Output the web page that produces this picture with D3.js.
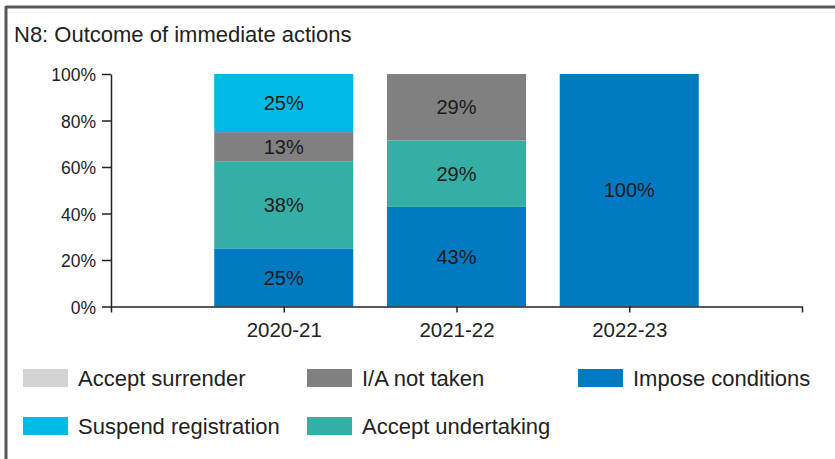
<!DOCTYPE html>
<html>
<head>
<meta charset="utf-8">
<script src="https://cdn.jsdelivr.net/npm/d3@7"></script>
<style>
  html, body { margin: 0; padding: 0; background: #fff; }
  svg { display: block; font-family: "Liberation Sans", Arial, sans-serif; }
</style>
</head>
<body>
<svg id="chart" width="835" height="459"></svg>
<script>
const title = "N8: Outcome of immediate actions";
const years = ["2020-21", "2021-22", "2022-23"];
// Stack order, bottom to top
const seriesNames = ["Impose conditions", "Accept undertaking", "I/A not taken", "Suspend registration", "Accept surrender"];
const imposeConditions   = [25, 42.86, 100];
const acceptUndertaking  = [37.5, 28.57, 0];
const iaNotTaken         = [12.5, 28.57, 0];
const suspendRegistration= [25, 0, 0];
const acceptSurrender    = [0, 0, 0];
const yTicks = [0, 20, 40, 60, 80, 100];
const legendOrder = [["Accept surrender", "I/A not taken", "Impose conditions"], ["Suspend registration", "Accept undertaking"]];
const colors = {
  "Impose conditions": "#007BC3",
  "Accept undertaking": "#34AFA6",
  "I/A not taken": "#808080",
  "Suspend registration": "#00B9E4",
  "Accept surrender": "#D3D3D3"
};

const valuesBySeries = {
  "Impose conditions": imposeConditions,
  "Accept undertaking": acceptUndertaking,
  "I/A not taken": iaNotTaken,
  "Suspend registration": suspendRegistration,
  "Accept surrender": acceptSurrender
};
const table = years.map((yr, i) => {
  const row = { year: yr };
  seriesNames.forEach(s => row[s] = valuesBySeries[s][i]);
  return row;
});

const svg = d3.select("#chart");

// Frame (top and left edges visible)
svg.append("line").attr("x1", 6).attr("x2", 835).attr("y1", 7).attr("y2", 7)
  .attr("stroke", "#575757").attr("stroke-width", 3);
svg.append("line").attr("x1", 6).attr("x2", 6).attr("y1", 6).attr("y2", 459)
  .attr("stroke", "#575757").attr("stroke-width", 3);

// Title
svg.append("text").attr("x", 14).attr("y", 42)
  .attr("font-size", 22).attr("fill", "#222").text(title);

const x = d3.scalePoint().domain(["_s", ...years, "_e"]).range([111, 802]);
const y = d3.scaleLinear().domain([0, 100]).range([306.5, 74]);
const barW = x.step() * 0.805;

const stack = d3.stack().keys(seriesNames)(table);

const g = svg.append("g");
stack.forEach(layer => {
  g.selectAll(null).data(layer).enter().append("rect")
    .filter(d => d[1] - d[0] > 0)
    .attr("x", d => x(d.data.year) - barW / 2)
    .attr("width", barW)
    .attr("y", d => y(d[1]))
    .attr("height", d => y(d[0]) - y(d[1]))
    .attr("fill", colors[layer.key]);
});
stack.forEach(layer => {
  g.selectAll(null).data(layer.filter(d => d[1] - d[0] > 0)).enter().append("text")
    .attr("x", d => x(d.data.year))
    .attr("y", d => y((d[0] + d[1]) / 2))
    .attr("dy", "0.36em")
    .attr("text-anchor", "middle")
    .attr("font-size", 20)
    .attr("fill", "#1a1a1a")
    .text(d => Math.round(d[1] - d[0]) + "%");
});

// Y axis
const yAxis = svg.append("g").attr("transform", "translate(111,0)")
  .call(d3.axisLeft(y).tickValues(yTicks).tickFormat(d => d + "%").tickSize(9).tickSizeOuter(0).tickPadding(6));
yAxis.selectAll("text").attr("font-size", 17.5).attr("fill", "#222").attr("dy", "0.38em");
yAxis.selectAll("line, path").attr("stroke", "#222").attr("stroke-width", 1.5);

// X axis
const xAxis = svg.append("g").attr("transform", "translate(0,306.5)")
  .call(d3.axisBottom(x).tickSize(6).tickSizeOuter(0).tickPadding(10).tickFormat(d => years.includes(d) ? d : ""));
xAxis.selectAll("text").attr("font-size", 20.5).attr("fill", "#222");
xAxis.selectAll("line, path").attr("stroke", "#222").attr("stroke-width", 1.5);

// Legend
const colX = [23, 307, 578];
const rowY = [369, 417];
legendOrder.forEach((row, ri) => {
  row.forEach((name, ci) => {
    const lg = svg.append("g").attr("transform", `translate(${colX[ci]},${rowY[ri]})`);
    lg.append("rect").attr("width", 45).attr("height", 18).attr("fill", colors[name]);
    lg.append("text").attr("x", 55).attr("y", 17).attr("font-size", 22).attr("fill", "#222").text(name);
  });
});
</script>
</body>
</html>
